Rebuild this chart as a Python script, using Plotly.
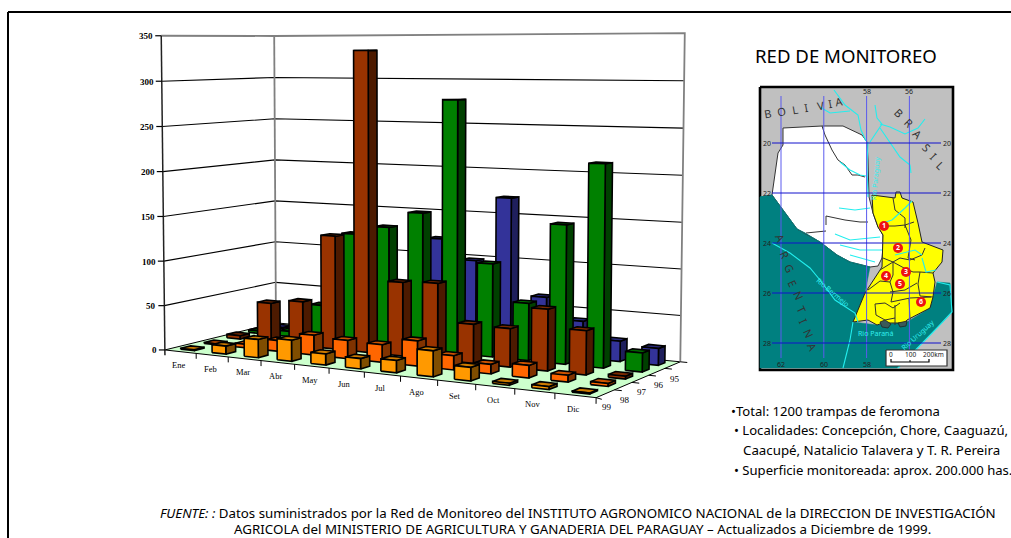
import numpy as np
import plotly.graph_objects as go

# ---------- chart data ----------
months = ["Ene","Feb","Mar","Abr","May","Jun","Jul","Ago","Set","Oct","Nov","Dic"]
years = ["99","98","97","96","95"]          # front row to back row
v99 = [1,9,20,23,12,11,13,27,14,2,3,1]
v98 = [1,4,12,22,20,19,27,15,10,13,7,3]
v97 = [4,45,50,127,333,81,83,42,41,65,46,3]
v96 = [3,6,40,125,135,153,279,102,62,149,215,20]
v95 = [1,2,3,5,15,120,98,170,63,40,22,18]
z_ticks = [0,50,100,150,200,250,300,350]

series = [v95,v96,v97,v98,v99]    # painted back to front
front = ["#333399","#008000","#993300","#FF6600","#FF9900"]
side  = ["#1F1F5C","#004000","#4D1A00","#803300","#804D00"]
top   = ["#29297A","#006600","#7A2900","#CC5200","#CC7A00"]

# ---------- perspective of the 3-D box, solved from its corners ----------
calib = [((0,0,0),(165,350)),((12,0,0),(596,398)),((0,5,0),(276,323)),((12,5,0),(680,362)),
         ((0,0,350),(161,36)),((0,5,350),(274,36)),((12,5,350),(685,34)),
         ((0,0,200),(163,171)),((0,5,200),(275,160)),((12,5,200),(683,174))]
A=[]
for (X,Y,Z),(u,v) in calib:
    Z=Z/50
    A.append([X,Y,Z,1,0,0,0,0,-u*X,-u*Y,-u*Z,-u])
    A.append([0,0,0,0,X,Y,Z,1,-v*X,-v*Y,-v*Z,-v])
P=np.linalg.svd(np.array(A,float))[2][-1].reshape(3,4)
def pr(X,Y,Z):
    h=P@np.array([X,Y,Z/50,1.0])
    return h[0]/h[2],h[1]/h[2]

fig=go.Figure()
def poly(pts,fill,line="#000000",w=1.6):
    xs,ys=zip(*[pr(*p) for p in pts])
    fig.add_trace(go.Scatter(x=list(xs)+[xs[0]],y=list(ys)+[ys[0]],mode="lines",fill="toself",
        fillcolor=fill,line=dict(color=line,width=w),hoverinfo="skip",showlegend=False))
def seg(pts,color="#000000",w=1.2):
    xs,ys=zip(*[pr(*p) for p in pts])
    fig.add_trace(go.Scatter(x=list(xs),y=list(ys),mode="lines",line=dict(color=color,width=w),
        hoverinfo="skip",showlegend=False))
def pline(pts,color,w=1.0,fill=None):
    xs,ys=zip(*pts)
    fig.add_trace(go.Scatter(x=xs,y=ys,mode="lines",line=dict(color=color,width=w),
        fill="toself" if fill else None,fillcolor=fill,hoverinfo="skip",showlegend=False))

ZM=z_ticks[-1]
# walls and floor
poly([(0,0,0),(0,5,0),(0,5,ZM),(0,0,ZM)],"#FFFFFF","#FFFFFF",0)
poly([(0,5,0),(12,5,0),(12,5,ZM),(0,5,ZM)],"#FFFFFF","#FFFFFF",0)
poly([(0,0,0),(12,0,0),(12,5,0),(0,5,0)],"#CCFFCC","#000000",1)
for z in z_ticks[1:-1]:
    seg([(0,0,z),(0,5,z),(12,5,z)],"#000000",1.1)
seg([(0,0,ZM),(0,5,ZM),(12,5,ZM),(12,5,0)],"#808080",1.8)
seg([(0,5,0),(0,5,ZM)],"#808080",1.8)
seg([(0,0,-6),(0,0,ZM)],"#222222",1.5)
for m in range(1,13):
    seg([(m,0,0),(m,0,-6)],"#000000",1)
for r in range(1,6):
    seg([(12,r,0),(12.18,r,0)],"#000000",1)
seg([(12,0,0),(12.18,-0.1,0)],"#000000",1)

# bars
hx,hy=0.215,0.21
for r,vals in zip(range(4,-1,-1),series):
    k=4-r
    for m,v in enumerate(vals):
        x0,x1,y0,y1=m+.5-hx,m+.5+hx,r+.5-hy,r+.5+hy
        poly([(x1,y0,0),(x1,y1,0),(x1,y1,v),(x1,y0,v)],side[k])
        poly([(x0,y0,v),(x1,y0,v),(x1,y1,v),(x0,y1,v)],top[k])
        poly([(x0,y0,0),(x1,y0,0),(x1,y0,v),(x0,y0,v)],front[k])

ann=[]
def text(x,y,s,size=12,color="#000",fam="Noto Sans",xa="left",ang=0,ya="middle"):
    ann.append(dict(x=x,y=y,text=s,showarrow=False,xanchor=xa,yanchor=ya,textangle=ang,
                    font=dict(size=size,color=color,family=fam)))
SER="Liberation Serif"
for z in z_ticks:
    u,v=pr(0,0,z)
    fig.add_trace(go.Scatter(x=[u,u-6],y=[v,v],mode="lines",line=dict(color="#000",width=1.2),hoverinfo="skip",showlegend=False))
    text(u-6,v+0.5,f"<b>{z}</b>",9,fam=SER,xa="right")
for m,s in enumerate(months):
    u,v=pr(m+.5,0,0)
    text(u-2,v+13.5,s,8.5,fam=SER,xa="center")
for r,s in enumerate(years):
    u,v=pr(12,r+.5,0)
    text(u+2,v+13.5,s,9,fam=SER,xa="center")

# ---------- side map (frame, territory outlines, graticule) ----------
map_lons=[62,60,58,56]; map_lats=[20,22,24,26,28]
lon_x=lambda d: 781+(62-d)*21.4
lat_y=lambda d: 143+(d-20)*25
teal=[(760,197),(772,195),(797,229),(805,233),(820,242),(837,255),(850,262),(870,267),(865,293),(853,322),(877,325),(907,322),(930,308),(937,282),(950,283),(952,312),(937,328),(897,368),(760,368)]
chaco=[(783,128),(822,126),(843,126),(862,135),(867,142),(868,160),(869,197),(873,213),(878,227),(883,235),(883,248),(882,258),(878,266),(870,267),(850,262),(837,255),(820,242),(805,233),(797,229),(772,195),(778,153),(783,145)]
yellow=[(872,195),(887,197),(895,198),(896,192),(900,192),(902,198),(913,202),(918,223),(922,242),(943,250),(942,262),(933,273),(935,282),(933,297),(930,308),(907,320),(905,323),(883,323),(877,325),(868,320),(853,322),(865,293),(882,267),(883,235),(878,227),(873,213)]
lakes=[[(880,322),(885,320),(891,324),(888,328),(882,327)],[(898,323),(907,321),(906,326),(900,327)]]
borders=[[(893,198),(895,210),(905,218),(905,228)],[(882,226),(895,226),(905,225),(914,222)],[(905,225),(911,240),(908,258),(915,260)],
 [(883,258),(893,262),(900,258),(910,260),(922,255),(925,248)],[(880,270),(893,262),(893,275),(890,282),(893,292)],[(893,262),(904,268),(913,272),(920,272),(933,273)],
 [(920,272),(918,284),(920,296),(933,297)],[(868,290),(880,281),(890,282)],[(890,292),(905,290),(917,283)],[(893,292),(891,302),(910,298),(931,297)],
 [(875,304),(885,303),(893,308),(900,303)],[(875,304),(876,315),(885,320),(895,318),(895,325)],[(895,318),(895,305)],[(909,298),(910,320)]]
chaco_lines=[[(822,126),(825,135),(832,150),(838,160),(845,165),(852,175),(858,175),(865,177)],[(826,225),(826,216),(845,220),(860,222),(868,222)],[(806,233),(826,231)]]
rivers=[[(834,90),(845,105),(858,115),(861,130),(866,141)],[(820,107),(830,113),(850,111)],[(875,105),(877,118),(882,124),(870,142)],
 [(880,124),(890,127),(905,134),(918,128),(925,119)],[(880,128),(892,145),(900,157),(910,165),(911,173)],[(868,142),(867,165),(868,197)],
 [(840,162),(850,170),(860,175),(866,176)],[(839,208),(855,210),(870,208)],[(880,224),(892,220),(905,208),(912,201)],
 [(835,234),(850,240),(880,237)],[(840,245),(860,250),(882,250)],[(850,255),(875,262)],[(895,255),(915,250),(922,255)],[(922,258),(926,272),(936,270)],
 [(772,243),(790,253),(810,268),(820,280),(835,300),(855,313),(858,322)],[(853,322),(850,340),(845,360),(843,368)],[(937,282),(950,285),(952,312),(937,328),(898,368)]]
pline([(760,87),(953,87),(953,370),(760,370),(760,87)],"#000000",2.6,fill="#C0C0C0")
pline(teal+[teal[0]],"#008080",0.5,fill="#008080")
pline(chaco+[chaco[0]],"#333333",1,fill="#FFFFFF")
pline(yellow+[yellow[0]],"#222222",1,fill="#FFFF00")
for b in lakes: pline(b+[b[0]],"#222222",0.8,fill="#3A5A5A")
for b in borders+chaco_lines: pline(b,"#333333",1)
for b in rivers: pline(b,"#22EEEE",1.1)
pline([(760,197),(772,195),(797,229),(805,233),(820,242),(837,255),(850,262),(870,267)],"#008080",1)
for d in map_lons: pline([(lon_x(d),96),(lon_x(d),358)],"#5A5AEE",1)
for d in map_lats: pline([(772,lat_y(d)),(941,lat_y(d))],"#1111CC",1)
for d in map_lats:
    text(767,lat_y(d),str(d),7,"#222",xa="center"); text(947,lat_y(d),str(d),7,"#222",xa="center")
for d in [58,56]: text(lon_x(d),91,str(d),7,"#222",xa="center")
for d in [62,60,58]: text(lon_x(d),364,str(d),7,"#222",xa="center")
# gauged localities
sites=[(884,226,"1"),(898,248,"2"),(906,272,"3"),(886,276,"4"),(900,284,"5"),(921,302,"6")]
fig.add_trace(go.Scatter(x=[s[0] for s in sites],y=[s[1] for s in sites],mode="markers+text",text=[f"<b>{s[2]}</b>" for s in sites],
    textfont=dict(size=7,color="#fff",family="Noto Sans"),textposition="middle center",
    marker=dict(size=10,color="#EE1111"),hoverinfo="skip",showlegend=False))
for ch,x,y in zip("BOLIVIA",[767,781,795,806,820,830,839],[113,111,109,107,105,103,101]):
    text(x,y,ch,11,"#333",xa="center",ang=-10)
for ch,x,y in zip("BRASIL",[899,909,918,927,934,941],[112,122,134,147,156,165]):
    text(x,y,ch,11,"#333",xa="center",ang=45)
for ch,x,y in zip("ARGENTINA",[781,785,790,793,799,802,804,809,813],[238,254,268,283,295,309,321,333,347]):
    text(x,y,ch,11,"#333",xa="center",ang=65)
text(875,178,"Rio Paraguay",7,"#33EEEE",xa="center",ang=-85)
text(833,292,"Rio Bermejo",7,"#33EEEE",xa="center",ang=40)
text(875,333,"Rio Paraná",7,"#33EEEE",xa="center")
text(917,335,"Rio Uruguay",7,"#33EEEE",xa="center",ang=-42)
pline([(886,350),(947,350),(947,366),(886,366),(886,350)],"#333333",1.2,fill="#FFFFFF")
pline([(891,359),(891,362),(929,362),(929,359)],"#000000",1.2)
pline([(910,360),(910,362)],"#000000",1)
text(891,354,"0",6.5,"#222",xa="center"); text(910,354,"100",6.5,"#222",xa="center"); text(933,354,"200km",6.5,"#222",xa="center")

# ---------- page texts ----------
text(845.5,55,"RED DE MONITOREO",18.6,xa="center")
text(729,411,"•Total: 1200 trampas de feromona",13.1)
text(732,430,"• Localidades: Concepción, Chore, Caaguazú,",13.1)
text(741,450,"Caacupé, Natalicio Talavera y T. R. Pereira",13.3)
text(732,470,"• Superficie monitoreada: aprox. 200.000 has.",13.1)
text(578,512.5,"<i>FUENTE: :</i> Datos suministrados por la Red de Monitoreo del INSTITUTO AGRONOMICO NACIONAL de la DIRECCION DE INVESTIGACIÓN",13.3,xa="center")
text(582,528.5,"AGRICOLA del MINISTERIO DE AGRICULTURA Y GANADERIA DEL PARAGUAY – Actualizados a Diciembre de 1999.",13.35,xa="center")

fig.update_layout(width=1011,height=538,margin=dict(l=0,r=0,t=0,b=0),paper_bgcolor="#fff",plot_bgcolor="#fff",
    xaxis=dict(range=[0,1011],visible=False,fixedrange=True),
    yaxis=dict(range=[538,0],visible=False,fixedrange=True),
    annotations=ann,
    shapes=[dict(type="line",x0=8,y0=12,x1=1011,y1=12,line=dict(color="#000",width=2)),
            dict(type="line",x0=8,y0=12,x1=8,y1=538,line=dict(color="#000",width=2))])
fig.write_html("out.html",config=dict(displayModeBar=False),
    post_script="document.body.style.margin='0';document.documentElement.style.overflow='hidden';")
